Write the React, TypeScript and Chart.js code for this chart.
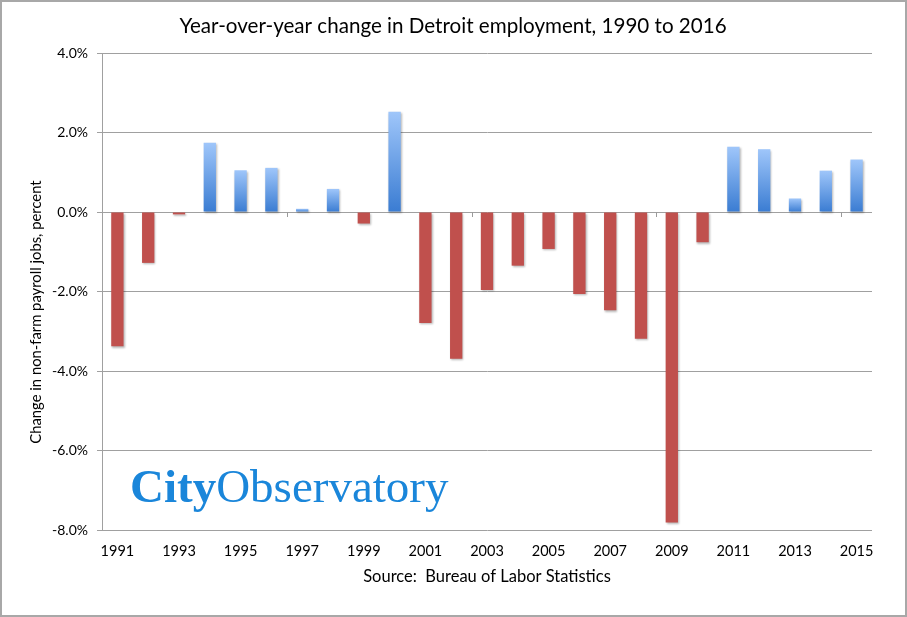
import React, { useEffect, useRef } from "react";
import { Chart, registerables } from "chart.js";

Chart.register(...registerables);

const years = [
  "1991", "1992", "1993", "1994", "1995", "1996", "1997", "1998", "1999", "2000",
  "2001", "2002", "2003", "2004", "2005", "2006", "2007", "2008", "2009", "2010",
  "2011", "2012", "2013", "2014", "2015",
];
const changes = [
  -3.38, -1.28, -0.06, 1.74, 1.05, 1.11, 0.08, 0.58, -0.29, 2.52,
  -2.79, -3.69, -1.96, -1.35, -0.93, -2.06, -2.47, -3.19, -7.81, -0.76,
  1.64, 1.58, 0.34, 1.04, 1.32,
];
const yMin = -8;
const yMax = 4;
const yStep = 2;
const titleText = "Year-over-year change in Detroit employment, 1990 to 2016";
const yTitleText = "Change in non-farm payroll jobs, percent";
const sourceText = "Source:  Bureau of Labor Statistics";
const logoBold = "City";
const logoRegular = "Observatory";

const W = 907;
const H = 617;
const SANS = "Lato, 'Open Sans', sans-serif";

const decorPlugin = {
  id: "decor",
  beforeDraw(chart: any) {
    const ctx = chart.ctx;
    ctx.save();
    ctx.fillStyle = "#ffffff";
    ctx.fillRect(0, 0, W, H);
    ctx.restore();
  },
  beforeDatasetsDraw(chart: any) {
    const ctx = chart.ctx;
    ctx.save();
    ctx.shadowColor = "rgba(0,0,0,0.28)";
    ctx.shadowBlur = 2;
    ctx.shadowOffsetX = 1;
    ctx.shadowOffsetY = 1.5;
  },
  afterDatasetsDraw(chart: any) {
    chart.ctx.restore();
  },
  afterDraw(chart: any) {
    const ctx = chart.ctx;
    const x = chart.scales.x;
    const y = chart.scales.y;
    const area = chart.chartArea;
    ctx.save();
    // small tick marks on the zero line every 6 categories
    const y0 = y.getPixelForValue(0);
    ctx.strokeStyle = "#9a9a9a";
    ctx.lineWidth = 1;
    for (let i = 6; i < years.length; i += 6) {
      const px = Math.round((x.getPixelForValue(i - 1) + x.getPixelForValue(i)) / 2) + 0.5;
      ctx.beginPath();
      ctx.moveTo(px, y0);
      ctx.lineTo(px, y0 + 5);
      ctx.stroke();
    }
    // title
    ctx.fillStyle = "#000";
    ctx.textAlign = "center";
    ctx.textBaseline = "middle";
    ctx.font = `20.6px ${SANS}`;
    ctx.fillText(titleText, 453, 26);
    // source
    ctx.font = `16.5px ${SANS}`;
    ctx.fillText(sourceText, (area.left + area.right) / 2, 577);
    // y title
    ctx.save();
    ctx.translate(36, 312);
    ctx.rotate(-Math.PI / 2);
    ctx.font = `14.8px ${SANS}`;
    ctx.fillText(yTitleText, 0, 0);
    ctx.restore();
    // logo
    ctx.textAlign = "left";
    ctx.textBaseline = "alphabetic";
    ctx.fillStyle = "#1a86da";
    ctx.font = `bold 47px 'Liberation Serif', serif`;
    ctx.fillText(logoBold, 130, 502);
    const w = ctx.measureText(logoBold).width;
    ctx.font = `47px 'Liberation Serif', serif`;
    ctx.fillText(logoRegular, 130 + w, 502);
    // frame
    ctx.strokeStyle = "#a8a8a8";
    ctx.lineWidth = 2;
    ctx.strokeRect(1, 1, W - 2, H - 2);
    ctx.restore();
  },
};

function barColor(ctx: any) {
  const v = ctx.raw as number;
  if (v < 0) return "#c0504d";
  const chart = ctx.chart;
  const y = chart.scales && chart.scales.y;
  if (!y || y.top === undefined) return "#6aa0e6";
  const top = y.getPixelForValue(v);
  const bottom = y.getPixelForValue(0);
  if (!isFinite(top) || !isFinite(bottom) || top === bottom) return "#6aa0e6";
  const g = chart.ctx.createLinearGradient(0, top, 0, bottom);
  g.addColorStop(0, "#9fc6fa");
  g.addColorStop(1, "#3a7cd2");
  return g;
}

export default function App() {
  const ref = useRef<HTMLCanvasElement | null>(null);
  useEffect(() => {
    document.body.style.margin = "0";
    const canvas = ref.current!;
    const chart = new Chart(canvas, {
      type: "bar",
      data: {
        labels: years,
        datasets: [
          {
            data: changes,
            backgroundColor: barColor as any,
            borderWidth: 0,
            barPercentage: 0.4,
            categoryPercentage: 1,
          },
        ],
      },
      options: {
        responsive: false,
        animation: false,
        events: [],
        layout: { padding: { top: 53, right: 35, left: 0, bottom: 0 } },
        plugins: {
          legend: { display: false },
          title: { display: false },
          tooltip: { enabled: false },
        },
        scales: {
          x: {
            grid: { display: false, drawTicks: false },
            border: { display: false },
            ticks: {
              autoSkip: false,
              maxRotation: 0,
              padding: 13,
              color: "#000",
              font: { family: SANS, size: 14.5 },
              callback: (_v: any, i: number) => (i % 2 === 0 ? years[i] : ""),
            },
            afterFit: (s: any) => {
              s.height = 87;
            },
          },
          y: {
            min: yMin,
            max: yMax,
            ticks: {
              stepSize: yStep,
              padding: 9,
              color: "#000",
              font: { family: SANS, size: 14 },
              callback: (v: any) => Number(v).toFixed(1) + "%",
            },
            grid: { color: "#a0a0a0", lineWidth: 1, tickLength: 5 },
            border: { display: true, color: "#a0a0a0" },
            afterFit: (s: any) => {
              s.width = 102;
            },
          },
        },
      },
      plugins: [decorPlugin],
    });
    return () => chart.destroy();
  }, []);
  return (
    <div style={{ position: "absolute", left: 0, top: 0, width: W, height: H }}>
      <canvas ref={ref} width={W} height={H} style={{ width: W, height: H, display: "block" }} />
    </div>
  );
}
